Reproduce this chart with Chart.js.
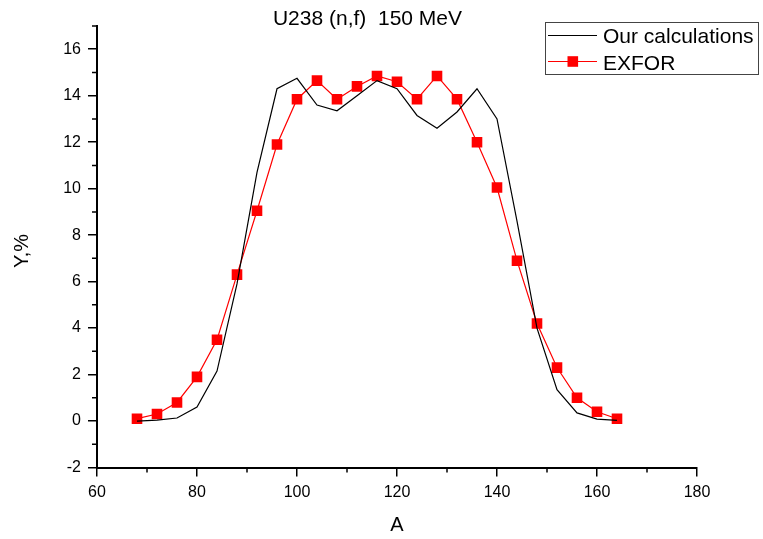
<!DOCTYPE html>
<html>
<head>
<meta charset="utf-8">
<script src="https://cdn.jsdelivr.net/npm/chart.js@4/dist/chart.umd.min.js"></script>
<style>
  html, body { margin: 0; padding: 0; background: #fff; }
  #wrap { width: 763px; height: 539px; position: relative; }
</style>
</head>
<body>
<div id="wrap"><canvas id="c" width="763" height="539"></canvas></div>
<script>
// ---- data ----
const massNumbers = [68, 72, 76, 80, 84, 88, 92, 96, 100, 104, 108, 112, 116, 120, 124, 128, 132, 136, 140, 144, 148, 152, 156, 160, 164];
const calcYield = [0.0, 0.04, 0.13, 0.6, 2.15, 5.9, 10.7, 14.3, 14.75, 13.6, 13.35, 14.0, 14.65, 14.3, 13.15, 12.6, 13.3, 14.3, 13.0, 8.6, 4.0, 1.35, 0.35, 0.08, 0.03];
const exforYield = [0.1, 0.3, 0.8, 1.9, 3.5, 6.3, 9.05, 11.9, 13.85, 14.65, 13.85, 14.4, 14.85, 14.6, 13.85, 14.85, 13.85, 12.0, 10.05, 6.9, 4.2, 2.3, 1.0, 0.4, 0.1];
const seriesNames = ["Our calculations", "EXFOR"];
const titleText = "U238 (n,f)  150 MeV";
const xTitle = "A";
const yTitle = "Y,%";
const xMinorTicks = [70, 90, 110, 130, 150, 170];
const yMinorTicks = [-1, 1, 3, 5, 7, 9, 11, 13, 15, 17];

const FONT = "'Liberation Sans', Arial, sans-serif";

const decor = {
  id: 'decor',
  afterDraw(chart) {
    const ctx = chart.ctx;
    const xs = chart.scales.x, ys = chart.scales.y;
    const ca = chart.chartArea;
    ctx.save();
    // minor ticks
    ctx.strokeStyle = '#000';
    ctx.lineWidth = 1.5;
    ctx.beginPath();
    xMinorTicks.forEach(v => {
      const px = xs.getPixelForValue(v);
      ctx.moveTo(px, ca.bottom); ctx.lineTo(px, ca.bottom + 5);
    });
    yMinorTicks.forEach(v => {
      const py = ys.getPixelForValue(v);
      ctx.moveTo(ca.left, py); ctx.lineTo(ca.left - 5, py);
    });
    ctx.stroke();

    ctx.fillStyle = '#000';
    // title
    ctx.font = '21px ' + FONT;
    ctx.textAlign = 'center';
    ctx.textBaseline = 'alphabetic';
    ctx.fillText(titleText, 367.5, 25);
    // x title
    ctx.font = '20px ' + FONT;
    ctx.fillText(xTitle, (ca.left + ca.right) / 2, 531);
    // y title
    ctx.save();
    ctx.translate(28, 251);
    ctx.rotate(-Math.PI / 2);
    ctx.fillText(yTitle, 0, 0);
    ctx.restore();

    // legend
    ctx.strokeStyle = '#444';
    ctx.lineWidth = 1;
    ctx.strokeRect(545.5, 22.5, 213, 52);
    ctx.lineWidth = 1.2;
    ctx.strokeStyle = '#000';
    ctx.beginPath(); ctx.moveTo(548, 35.5); ctx.lineTo(597, 35.5); ctx.stroke();
    ctx.strokeStyle = '#ff0000';
    ctx.beginPath(); ctx.moveTo(548, 61.5); ctx.lineTo(597, 61.5); ctx.stroke();
    ctx.fillStyle = '#ff0000';
    ctx.fillRect(567.5, 56.2, 10.6, 10.6);
    ctx.fillStyle = '#000';
    ctx.font = '21px ' + FONT;
    ctx.textAlign = 'left';
    ctx.fillText(seriesNames[0], 603, 43);
    ctx.fillText(seriesNames[1], 603, 69.5);
    ctx.restore();
  }
};

new Chart(document.getElementById('c'), {
  type: 'line',
  data: {
    datasets: [
      {
        label: seriesNames[0],
        data: massNumbers.map((a, i) => ({ x: a, y: calcYield[i] })),
        borderColor: '#000',
        borderWidth: 1.2,
        pointRadius: 0,
        tension: 0,
        fill: false
      },
      {
        label: seriesNames[1],
        data: massNumbers.map((a, i) => ({ x: a, y: exforYield[i] })),
        borderColor: '#ff0000',
        backgroundColor: '#ff0000',
        borderWidth: 1.2,
        pointStyle: 'rect',
        pointRadius: 7.5,
        pointBorderWidth: 0,
        pointBackgroundColor: '#ff0000',
        tension: 0,
        fill: false
      }
    ]
  },
  options: {
    responsive: false,
    animation: false,
    devicePixelRatio: 1,
    layout: { padding: { left: 0, top: 26, right: 66, bottom: 0 } },
    plugins: { legend: { display: false }, title: { display: false }, tooltip: { enabled: false } },
    scales: {
      x: {
        type: 'linear',
        min: 60, max: 180,
        afterFit(s) { s.height = 71.5; },
        ticks: { stepSize: 20, color: '#000', font: { family: FONT, size: 16 }, padding: 6, maxRotation: 0 },
        grid: { display: true, drawOnChartArea: false, drawTicks: true, tickLength: 9, color: '#000', lineWidth: 1.5 },
        border: { display: true, color: '#000', width: 2 }
      },
      y: {
        type: 'linear',
        min: -2, max: 17,
        afterFit(s) { s.width = 97; },
        ticks: { stepSize: 2, includeBounds: false, color: '#000', font: { family: FONT, size: 16 }, padding: 7 },
        grid: { display: true, drawOnChartArea: false, drawTicks: true, tickLength: 9, color: '#000', lineWidth: 1.5 },
        border: { display: true, color: '#000', width: 2 }
      }
    }
  },
  plugins: [decor]
});
</script>
</body>
</html>
